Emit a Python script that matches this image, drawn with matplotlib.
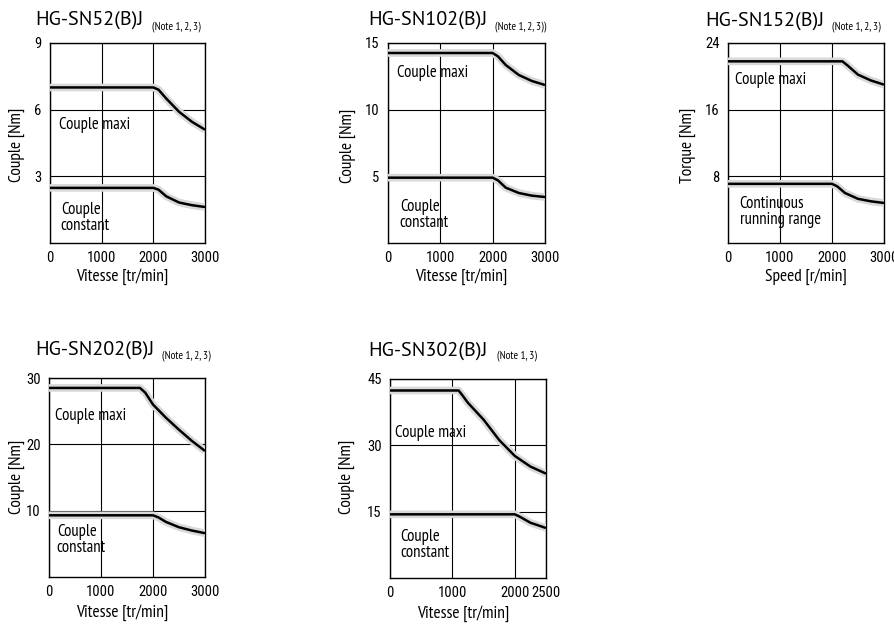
import matplotlib
matplotlib.use("Agg")
import matplotlib.pyplot as plt
from matplotlib import font_manager

W, H = 895, 624

# ---------------- data ----------------
titles = ["HG-SN52(B)J", "HG-SN102(B)J", "HG-SN152(B)J", "HG-SN202(B)J", "HG-SN302(B)J"]
notes = ["(Note 1, 2, 3)", "(Note 1, 2, 3))", "(Note 1, 2, 3)", "(Note 1, 2, 3)", "(Note 1, 3)"]
ylabels = ["Couple [Nm]", "Couple [Nm]", "Torque [Nm]", "Couple [Nm]", "Couple [Nm]"]
xlabels = ["Vitesse [tr/min]", "Vitesse [tr/min]", "Speed [r/min]", "Vitesse [tr/min]", "Vitesse [tr/min]"]
max_labels = ["Couple maxi"] * 5
cont_labels = ["Couple\nconstant", "Couple\nconstant", "Continuous\nrunning range",
               "Couple\nconstant", "Couple\nconstant"]

xmax = [3000, 3000, 3000, 3000, 2500]
xticks = [[0, 1000, 2000, 3000]] * 4 + [[0, 1000, 2000, 2500]]
yticks = [[3, 6, 9], [5, 10, 15], [8, 16, 24], [10, 20, 30], [15, 30, 45]]

# SN52
sn52_max_x = [0, 2000, 2100, 2250, 2500, 2750, 3000]
sn52_max_y = [7.0, 7.0, 6.9, 6.5, 5.9, 5.45, 5.1]
sn52_con_x = [0, 2000, 2100, 2250, 2500, 2750, 3000]
sn52_con_y = [2.48, 2.48, 2.4, 2.1, 1.82, 1.7, 1.62]
# SN102
sn102_max_x = [0, 2000, 2100, 2250, 2500, 2750, 3000]
sn102_max_y = [14.25, 14.25, 14.0, 13.35, 12.6, 12.15, 11.85]
sn102_con_x = [0, 2000, 2100, 2250, 2500, 2750, 3000]
sn102_con_y = [4.9, 4.9, 4.7, 4.15, 3.75, 3.55, 3.45]
# SN152
sn152_max_x = [0, 2200, 2300, 2500, 2750, 3000]
sn152_max_y = [21.8, 21.8, 21.3, 20.2, 19.5, 19.0]
sn152_con_x = [0, 2000, 2100, 2250, 2500, 2750, 3000]
sn152_con_y = [7.1, 7.1, 6.8, 6.0, 5.3, 5.0, 4.8]
# SN202
sn202_max_x = [0, 1750, 1850, 2000, 2250, 2500, 2750, 3000]
sn202_max_y = [28.5, 28.5, 27.8, 26.0, 24.0, 22.2, 20.5, 19.0]
sn202_con_x = [0, 2000, 2100, 2250, 2500, 2750, 3000]
sn202_con_y = [9.3, 9.3, 9.0, 8.3, 7.5, 7.0, 6.6]
# SN302
sn302_max_x = [0, 1100, 1150, 1250, 1500, 1750, 2000, 2250, 2500]
sn302_max_y = [42.4, 42.4, 41.5, 39.6, 35.8, 31.2, 27.6, 25.2, 23.6]
sn302_con_x = [0, 2000, 2075, 2250, 2500]
sn302_con_y = [14.4, 14.4, 13.9, 12.5, 11.3]

max_x = [sn52_max_x, sn102_max_x, sn152_max_x, sn202_max_x, sn302_max_x]
max_y = [sn52_max_y, sn102_max_y, sn152_max_y, sn202_max_y, sn302_max_y]
con_x = [sn52_con_x, sn102_con_x, sn152_con_x, sn202_con_x, sn302_con_x]
con_y = [sn52_con_y, sn102_con_y, sn152_con_y, sn202_con_y, sn302_con_y]

# ---------------- layout (pixels) ----------------
axes_px = [(50, 43, 155, 200), (388, 43, 157, 200), (728, 43, 156, 200),
           (49, 378, 156, 199), (390, 379, 156, 199)]
title_px = [(35, 25), (368, 25), (705, 26), (35, 355), (368, 356)]
note_px = [(152, 29), (495, 29), (832, 29), (162, 358), (497, 358)]
ylab_px = [(17, 145), (348, 146), (688, 145), (17, 477), (347, 477)]
xlab_px = [(122, 277), (461, 277), (806, 277), (122, 613), (463, 614)]
max_txt = [(0.06, 0.59), (0.06, 0.85), (0.045, 0.815), (0.04, 0.81), (0.03, 0.73)]
con_txt = [(0.07, 0.125), (0.075, 0.14), (0.075, 0.155), (0.05, 0.186), (0.065, 0.166)]

avail = {f.name for f in font_manager.fontManager.ttflist}

def pick(*names):
    for n in names:
        if n in avail:
            return n
    return "DejaVu Sans"

narrow = pick("PT Sans Narrow", "Fira Sans Condensed", "Roboto Condensed")
titlef = pick("PT Sans", "Open Sans", "Liberation Sans")
tickf = pick("Roboto Condensed", "Archivo Narrow", "Liberation Sans")

fig = plt.figure(figsize=(W / 100, H / 100), dpi=100)

def fx(px):
    return px / W

def fy(py):
    return 1 - py / H

for i in range(5):
    l, t, w, h = axes_px[i]
    ax = fig.add_axes([fx(l), fy(t + h), w / W, h / H])
    ax.set_xlim(0, xmax[i])
    ax.set_ylim(0, yticks[i][-1])
    ax.set_xticks(xticks[i])
    ax.set_yticks(yticks[i])
    ax.set_xticklabels([str(v) for v in xticks[i]], fontsize=10.5, fontfamily=tickf)
    ax.set_yticklabels([str(v) for v in yticks[i]], fontsize=10.5, fontfamily=tickf)
    ax.tick_params(length=0, pad=6)
    ax.grid(True, color="black", linewidth=0.8)
    ax.set_axisbelow(True)
    for s in ax.spines.values():
        s.set_linewidth(1.0)
        s.set_color("black")

    for xs, ys in ((max_x[i], max_y[i]), (con_x[i], con_y[i])):
        ax.plot(xs, ys, color="#d9d9d9", linewidth=5.5, solid_capstyle="butt", zorder=3)
        ax.plot(xs, ys, color="black", linewidth=1.8, solid_capstyle="butt", zorder=4)

    ax.text(max_txt[i][0], max_txt[i][1], max_labels[i], transform=ax.transAxes,
            fontsize=12, fontfamily=narrow, va="center", ha="left", zorder=5)
    ax.text(con_txt[i][0], con_txt[i][1], cont_labels[i], transform=ax.transAxes,
            fontsize=12, fontfamily=narrow, va="center", ha="left",
            linespacing=0.95, zorder=5)

    fig.text(fx(title_px[i][0]), fy(title_px[i][1]), titles[i], fontsize=14.5,
             fontfamily=titlef, va="baseline", ha="left")
    fig.text(fx(note_px[i][0]), fy(note_px[i][1]), notes[i], fontsize=8,
             fontfamily=narrow, va="baseline", ha="left")
    fig.text(fx(ylab_px[i][0]), fy(ylab_px[i][1]), ylabels[i], fontsize=12.5,
             fontfamily=narrow, rotation=90, va="center", ha="center")
    fig.text(fx(xlab_px[i][0]), fy(xlab_px[i][1]), xlabels[i], fontsize=12.5,
             fontfamily=narrow, va="center", ha="center")

fig.savefig("out.png", dpi=100)
